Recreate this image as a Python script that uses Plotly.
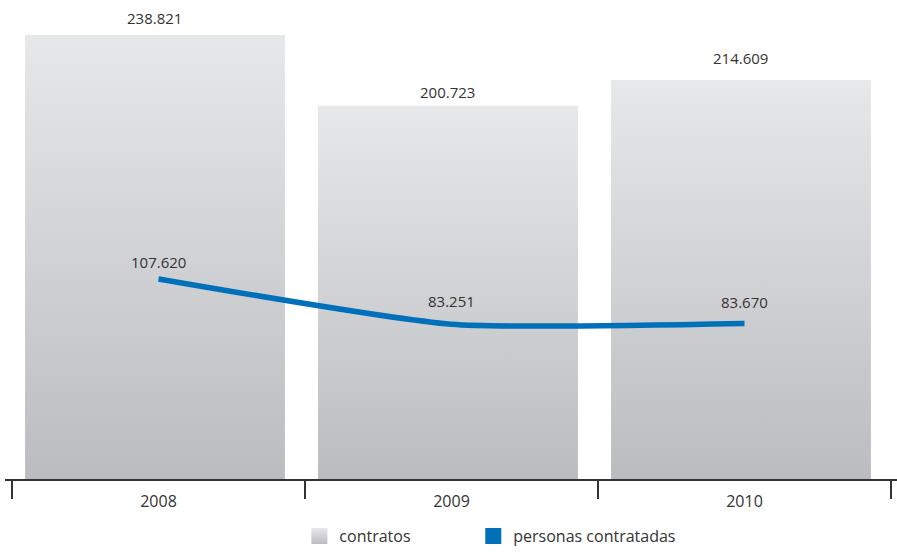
import plotly.graph_objects as go

# Data
years = ["2008", "2009", "2010"]
contratos = [238821, 200723, 214609]
personas = [107620, 83251, 83670]
contratos_labels = ["238.821", "200.723", "214.609"]
personas_labels = ["107.620", "83.251", "83.670"]

# Styles
FONT = "Open Sans"
TEXT = "#333333"
BAR_TOP = "#e7e8ea"
BAR_BOTTOM = "#bbbcbf"
BLUE = "#0070ba"
BAR_WIDTH = 0.887
BAR_SHIFT = -0.012
bar_label_offsets = [17, 14, 22]     # px above bar top (label centre)
line_label_offsets = [17, 23, 21]    # px above line point (label centre)

xs = list(range(len(years)))
fig = go.Figure()

# Bars drawn as filled rectangles so each one gets its own vertical gradient
for i, v in zip(xs, contratos):
    x0 = i + BAR_SHIFT - BAR_WIDTH / 2
    x1 = x0 + BAR_WIDTH
    fig.add_trace(go.Scatter(
        x=[x0, x1, x1, x0, x0], y=[0, 0, v, v, 0],
        mode="lines", line=dict(width=0), fill="toself",
        fillgradient=dict(type="vertical",
                          colorscale=[[0, BAR_BOTTOM], [1, BAR_TOP]]),
        showlegend=False, hoverinfo="skip",
    ))

# Smoothed line for people hired
fig.add_trace(go.Scatter(
    x=xs, y=personas, mode="lines",
    line=dict(color=BLUE, width=5.5, shape="spline", smoothing=0.55),
    showlegend=False, hoverinfo="skip",
))

# Legend entries (one legend box each, placed side by side)
fig.add_trace(go.Scatter(
    x=[None], y=[None], mode="markers", name="contratos", legend="legend",
    marker=dict(symbol="square", size=16, color=BAR_TOP,
                gradient=dict(type="vertical", color=BAR_BOTTOM)),
))
fig.add_trace(go.Scatter(
    x=[None], y=[None], mode="markers", name="personas contratadas",
    legend="legend2",
    marker=dict(symbol="square", size=16, color=BLUE),
))

annotations = []
for i, v, t, off in zip(xs, contratos, contratos_labels, bar_label_offsets):
    annotations.append(dict(x=i + BAR_SHIFT, y=v, text=t, showarrow=False,
                            yanchor="middle", yshift=off,
                            font=dict(family=FONT, size=15, color=TEXT)))
for i, v, t, off in zip(xs, personas, personas_labels, line_label_offsets):
    annotations.append(dict(x=i, y=v, text=t, showarrow=False,
                            yanchor="middle", yshift=off,
                            font=dict(family=FONT, size=15, color=TEXT)))

legend_style = dict(orientation="h", xanchor="left", y=-74 / 479,
                    yanchor="bottom", bgcolor="rgba(0,0,0,0)",
                    font=dict(family=FONT, size=16, color=TEXT))

fig.update_layout(
    width=897, height=553,
    margin=dict(l=5, r=0, t=0, b=74, autoexpand=False),
    paper_bgcolor="white", plot_bgcolor="white",
    font=dict(family=FONT, size=15.5, color=TEXT),
    xaxis=dict(
        range=[-0.5 - 7 / 293, 2.5 + 6 / 293],
        tickvals=xs, ticktext=years, ticks="",
        tickfont=dict(family=FONT, size=16, color=TEXT),
        showgrid=False, zeroline=False,
        showline=True, linecolor="#333333", linewidth=1.5,
        ticklabelstandoff=7,
        minor=dict(tickvals=[-0.5, 0.5, 1.5, 2.5], ticks="outside",
                   ticklen=18, tickwidth=1.5, tickcolor="#333333",
                   showgrid=False),
    ),
    yaxis=dict(range=[0, 257650], visible=False, showgrid=False,
               zeroline=False),
    legend=dict(x=0.33, **legend_style),
    legend2=dict(x=0.525, **legend_style),
    annotations=annotations,
    showlegend=True,
)

fig.write_html("out.html")
